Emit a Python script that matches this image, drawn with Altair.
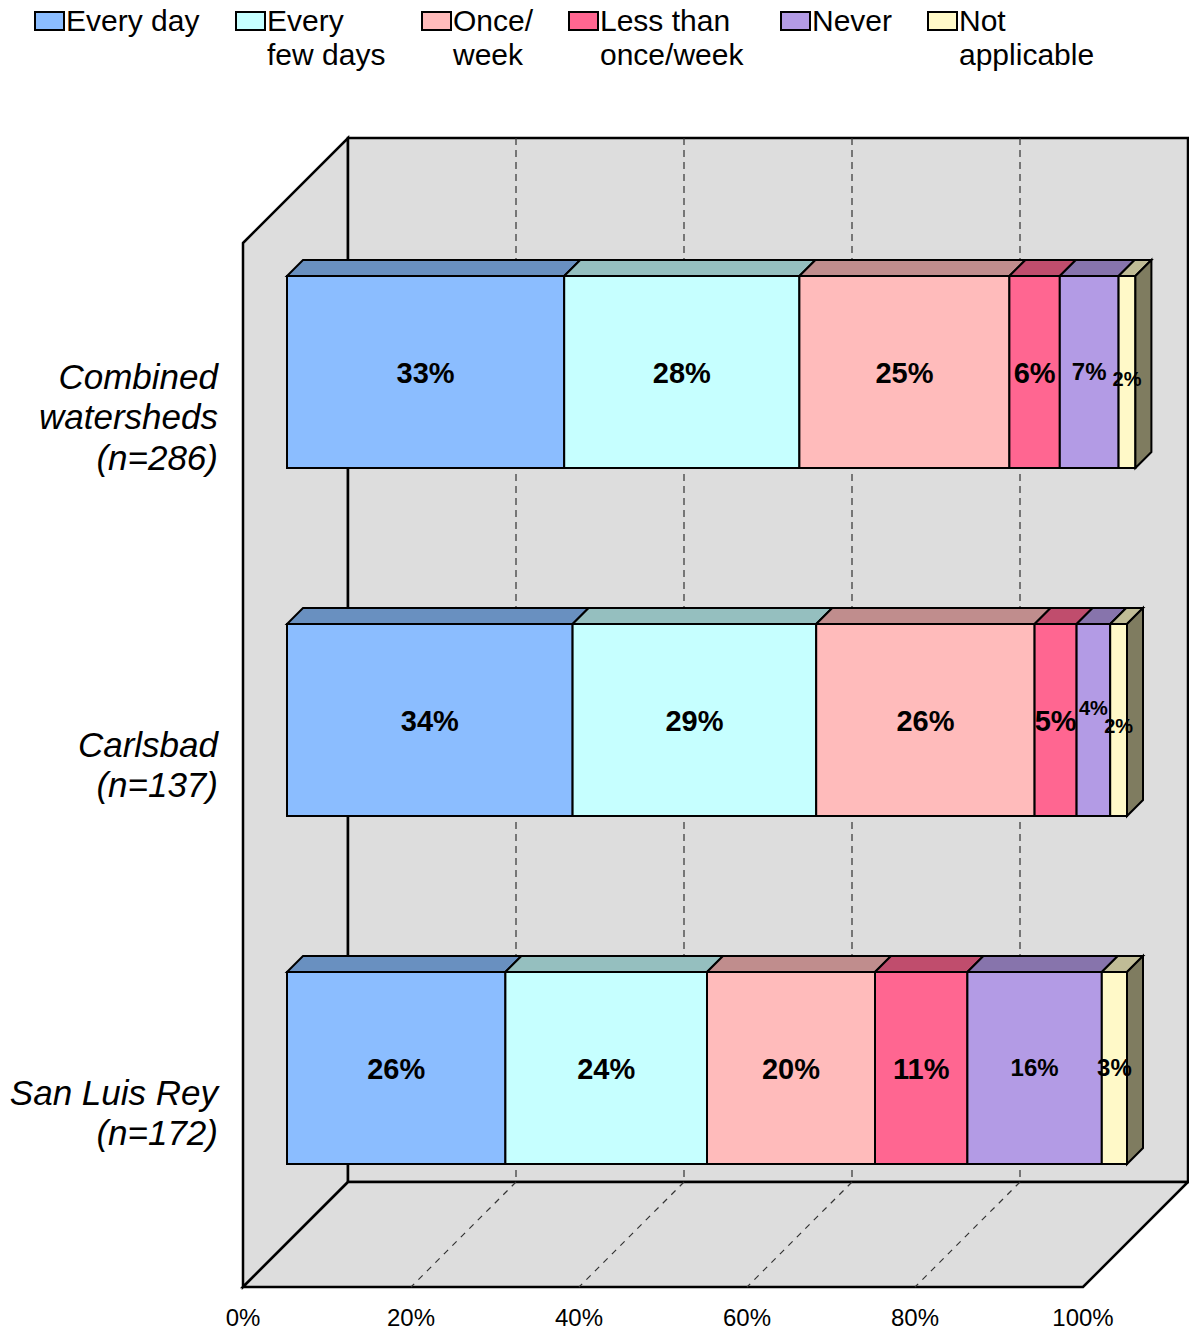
import altair as alt
import pandas as pd

# ---------------- data ----------------
categories = ["Every day", "Every few days", "Once/week", "Less than once/week", "Never", "Not applicable"]
legend_labels = ["Every day", "Every\nfew days", "Once/\nweek", "Less than\nonce/week", "Never", "Not\napplicable"]
groups = ["Combined watersheds (n=286)", "Carlsbad (n=137)", "San Luis Rey (n=172)"]
group_labels = ["Combined\nwatersheds\n(n=286)", "Carlsbad\n(n=137)", "San Luis Rey\n(n=172)"]
combined = [33, 28, 25, 6, 7, 2]
carlsbad = [34, 29, 26, 5, 4, 2]
san_luis_rey = [26, 24, 20, 11, 16, 3]
series = [combined, carlsbad, san_luis_rey]
tick_values = [0, 20, 40, 60, 80, 100]

# ---------------- styles / layout ----------------
front_colors = ["#8BBDFF", "#C6FFFF", "#FFBBBB", "#FF6691", "#B39BE5", "#FFF9C8"]
top_colors = ["#6990C0", "#95BFBF", "#C08D8D", "#C04D6D", "#8774AC", "#C0BC96"]
side_color = "#7F7C60"
wall_color = "#DDDDDD"
FONT = "Liberation Sans"

W, H = 1189, 1332
ORIGIN_PX = 243          # pixel x of 0% on the front plane
PX_PER_PCT = 8.4         # pixels per percentage point
WALL_PX = 105            # depth of the 3D box (pixels, 45 degrees)
FLOOR_FRONT_Y = 1287
BACK_TOP_Y = 138
BACK_BOTTOM_Y = FLOOR_FRONT_Y - WALL_PX
BAR_DEPTH_PX = 44        # depth at which the bars sit
BAR_THICK_PX = 16        # thickness of the bars
BAR_CENTER0 = 372
BAR_PITCH = 348
BAR_HALF = 96
CAT_FONT = 35
CAT_LINE = 40.5
LEG_FONT = 30
LEG_LINE = 34

def u(px):
    """pixel offset -> percentage units"""
    return px / PX_PER_PCT

WALL = u(WALL_PX)
D0 = u(BAR_DEPTH_PX)
T = u(BAR_THICK_PX)

# label style tweaks (size, vertical nudge) for the narrow segments
label_style = {
    (0, 4): (24, 1), (0, 5): (20, 8),
    (1, 4): (20, -11), (1, 5): (20, 7),
    (2, 4): (24, 1), (2, 5): (24, 1),
}

# ---------------- tables ----------------
left_wall = pd.DataFrame({"x": [0, WALL],
                          "y": [FLOOR_FRONT_Y - (BACK_BOTTOM_Y - BACK_TOP_Y), BACK_TOP_Y],
                          "y2": [FLOOR_FRONT_Y, BACK_BOTTOM_Y]})
back_wall = pd.DataFrame({"x": [WALL], "x2": [WALL + 100], "y": [BACK_TOP_Y], "y2": [BACK_BOTTOM_Y]})
floor = pd.DataFrame({"x": [0, WALL, 100, 100 + WALL],
                      "y": [FLOOR_FRONT_Y, BACK_BOTTOM_Y, BACK_BOTTOM_Y, BACK_BOTTOM_Y],
                      "y2": [FLOOR_FRONT_Y, FLOOR_FRONT_Y, FLOOR_FRONT_Y, BACK_BOTTOM_Y]})
grid_vals = [t for t in tick_values if 0 < t < 100]
grid_back = pd.DataFrame({"x": [WALL + g for g in grid_vals],
                          "y": [BACK_TOP_Y] * len(grid_vals),
                          "y2": [BACK_BOTTOM_Y] * len(grid_vals)})
grid_floor = pd.DataFrame({"x": [WALL + g for g in grid_vals], "x2": grid_vals,
                           "y": [BACK_BOTTOM_Y] * len(grid_vals),
                           "y2": [FLOOR_FRONT_Y] * len(grid_vals)})

fronts, tops, sides, labels, cats = [], [], [], [], []
for gi, vals in enumerate(series):
    c = BAR_CENTER0 + BAR_PITCH * gi
    top = c - BAR_HALF
    bot = c + BAR_HALF
    start = 0.0
    for ci, v in enumerate(vals):
        end = start + v
        x0, x1 = D0 + start, D0 + end
        fronts.append({"x": x0, "x2": x1, "y": top, "y2": bot, "fill": front_colors[ci]})
        key = f"{gi}-{ci}"
        for xx, yy, yy2 in [(x0, top, top), (x0 + T, top, top - BAR_THICK_PX),
                            (x1, top, top - BAR_THICK_PX), (x1 + T, top - BAR_THICK_PX, top - BAR_THICK_PX)]:
            tops.append({"k": key, "x": xx, "y": yy, "y2": yy2, "fill": top_colors[ci]})
        if ci == len(vals) - 1:
            for xx, yy, yy2 in [(x1, top, bot), (x1 + T, top - BAR_THICK_PX, bot - BAR_THICK_PX)]:
                sides.append({"k": key, "x": xx, "y": yy, "y2": yy2, "fill": side_color})
        size, dy = label_style.get((gi, ci), (29, 2))
        labels.append({"x": (x0 + x1) / 2, "y": c + dy, "text": f"{v}%", "size": size})
        start = end
    n_lines = group_labels[gi].count("\n") + 1
    cats.append({"x": u(218 - ORIGIN_PX),
                 "y": c + BAR_DEPTH_PX + 2 - (n_lines - 1) / 2 * CAT_LINE,
                 "text": group_labels[gi]})

fronts = pd.DataFrame(fronts)
tops = pd.DataFrame(tops)
sides = pd.DataFrame(sides)
labels = pd.DataFrame(labels)
cats = pd.DataFrame(cats)
ticks = pd.DataFrame({"x": tick_values, "y": [1319] * len(tick_values),
                      "text": [f"{t}%" for t in tick_values]})

legend_left_px = [35, 236, 422, 569, 781, 928]
leg_marks = pd.DataFrame({"x": [u(p - ORIGIN_PX) for p in legend_left_px],
                          "x2": [u(p + 29 - ORIGIN_PX) for p in legend_left_px],
                          "y": [12] * 6, "y2": [30] * 6, "fill": front_colors})
leg_text = pd.DataFrame({"x": [u(p + 31 - ORIGIN_PX) for p in legend_left_px],
                         "y": [31] * 6, "text": legend_labels})

# ---------------- scales ----------------
xs = alt.Scale(domain=[u(-ORIGIN_PX), u(W - ORIGIN_PX)], nice=False, zero=False)
ys = alt.Scale(domain=[0, H], reverse=True, nice=False, zero=False)
X = lambda f="x": alt.X(f"{f}:Q", scale=xs, axis=None)
Y = lambda f="y": alt.Y(f"{f}:Q", scale=ys, axis=None)
FILL = alt.Fill("fill:N", scale=None, legend=None)

layers = [
    alt.Chart(left_wall).mark_area(orient="vertical", fill=wall_color, stroke="black", strokeWidth=2.5)
       .encode(x=X(), y=Y(), y2="y2:Q"),
    alt.Chart(back_wall).mark_rect(fill=wall_color, stroke="black", strokeWidth=2.5)
       .encode(x=X(), x2="x2:Q", y=Y(), y2="y2:Q"),
    alt.Chart(floor).mark_area(orient="vertical", fill=wall_color, stroke="black", strokeWidth=2.5)
       .encode(x=X(), y=Y(), y2="y2:Q"),
    alt.Chart(grid_back).mark_rule(color="#333333", strokeWidth=1.2, strokeDash=[7, 5])
       .encode(x=X(), y=Y(), y2="y2:Q"),
    alt.Chart(grid_floor).mark_rule(color="#333333", strokeWidth=1.2, strokeDash=[6, 6])
       .encode(x=X(), x2="x2:Q", y=Y(), y2="y2:Q"),
    alt.Chart(tops).mark_area(orient="vertical", stroke="black", strokeWidth=2, strokeJoin="miter")
       .encode(x=X(), y=Y(), y2="y2:Q", fill=FILL, detail="k:N"),
    alt.Chart(fronts).mark_rect(stroke="black", strokeWidth=2)
       .encode(x=X(), x2="x2:Q", y=Y(), y2="y2:Q", fill=FILL),
    alt.Chart(sides).mark_area(orient="vertical", stroke="black", strokeWidth=2, strokeJoin="miter")
       .encode(x=X(), y=Y(), y2="y2:Q", fill=FILL, detail="k:N"),
    alt.Chart(labels).mark_text(font=FONT, fontWeight="bold", color="black", align="center", baseline="middle")
       .encode(x=X(), y=Y(), text="text:N", size=alt.Size("size:Q", scale=None, legend=None)),
    alt.Chart(cats).mark_text(font=FONT, fontStyle="italic", fontSize=CAT_FONT, lineHeight=CAT_LINE,
                              lineBreak="\n", align="right", baseline="middle", color="black")
       .encode(x=X(), y=Y(), text="text:N"),
    alt.Chart(ticks).mark_text(font=FONT, fontSize=24, align="center", baseline="middle", color="black")
       .encode(x=X(), y=Y(), text="text:N"),
    alt.Chart(leg_marks).mark_rect(stroke="black", strokeWidth=2)
       .encode(x=X(), x2="x2:Q", y=Y(), y2="y2:Q", fill=FILL),
    alt.Chart(leg_text).mark_text(font=FONT, fontSize=LEG_FONT, lineHeight=LEG_LINE, lineBreak="\n",
                                  align="left", baseline="alphabetic", color="black")
       .encode(x=X(), y=Y(), text="text:N"),
]

chart = alt.layer(*layers).properties(
    width=W, height=H, padding=0, autosize=alt.AutoSizeParams(type="none"), background="white"
).configure_view(stroke=None)

chart.save("out.html", embed_options={"renderer": "svg", "actions": False})
